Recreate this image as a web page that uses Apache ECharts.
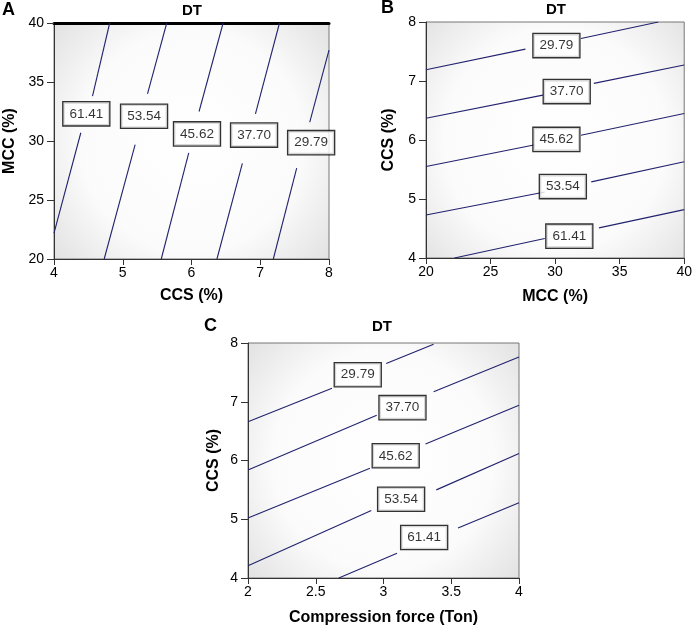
<!DOCTYPE html>
<html>
<head>
<meta charset="utf-8">
<script src="https://cdn.jsdelivr.net/npm/echarts@6/dist/echarts.min.js"></script>
<style>html,body{margin:0;padding:0;background:#fff;}#c{width:695px;height:627px;}</style>
</head>
<body>
<div id="c"></div>
<script>
// Contour levels (DT)
const levels = ['61.41', '53.54', '45.62', '37.70', '29.79'];

// Panel A: CCS (%) on x, MCC (%) on y
const aLow = [[[4, 22.2], [4.39, 30.7]], [[4.73, 20], [5.18, 29.7]], [[5.56, 20], [5.96, 29.0]], [[6.37, 20], [6.74, 28.1]], [[7.19, 20], [7.53, 27.7]]];
const aHigh = [[[4.56, 33.8], [4.81, 40]], [[5.36, 34.0], [5.64, 40]], [[6.11, 32.5], [6.46, 40]], [[6.93, 32.3], [7.28, 40]], [[7.72, 31.6], [8.0, 37.7]]];
const aLabels = [[4.47, 32.3], [5.31, 32.1], [6.08, 30.6], [6.91, 30.5], [7.74, 29.86]];

// Panel B: MCC (%) on x, CCS (%) on y
const bLow = [[[22.2, 4.0], [29.2, 4.33]], [[20, 4.73], [29.2, 5.12]], [[20, 5.55], [28.45, 5.92]], [[20, 6.37], [29.05, 6.76]], [[20, 7.19], [27.7, 7.54]]];
const bHigh = [[[33.4, 4.51], [40, 4.82]], [[32.8, 5.29], [40, 5.63]], [[32.0, 6.08], [40, 6.45]], [[33.0, 6.96], [40, 7.27]], [[32.0, 7.72], [38.0, 8.0]]];
const bLabels = [[31.1, 4.37], [30.6, 5.21], [30.1, 6.01], [30.9, 6.82], [30.1, 7.60]];

// Panel C: Compression force (Ton) on x, CCS (%) on y
const cLow = [[[2.67, 4.0], [3.10, 4.42]], [[2, 4.21], [2.91, 5.15]], [[2, 5.02], [2.90, 5.87]], [[2, 5.84], [2.95, 6.77]], [[2, 6.66], [2.62, 7.23]]];
const cHigh = [[[3.55, 4.85], [4, 5.28]], [[3.39, 5.50], [4, 6.12]], [[3.31, 6.28], [4, 6.94]], [[3.37, 7.17], [4, 7.76]], [[3.02, 7.65], [3.37, 7.98]]];
const cLabels = [[3.30, 4.69], [3.13, 5.34], [3.09, 6.08], [3.14, 6.90], [2.81, 7.46]];

// Axis ranges / names
const axisNames = [['CCS (%)', 'MCC (%)'], ['MCC (%)', 'CCS (%)'], ['Compression force (Ton)', 'CCS (%)']];
const xRanges = [[4, 8, 1], [20, 40, 5], [2, 4, 0.5]];
const yRanges = [[20, 40, 5], [4, 8, 1], [4, 8, 1]];

const FONT = 'Liberation Sans, Arial, sans-serif';
const LINE_COLOR = '#22226e';

const bg = {
  type: 'radial', x: 0.5, y: 0.5, r: 0.78,
  colorStops: [{offset: 0, color: '#ffffff'}, {offset: 0.6, color: '#fbfbfb'}, {offset: 1, color: '#e0e0e0'}]
};

const grids = [
  {left: 54, top: 23, width: 275, height: 236},
  {left: 426, top: 22, width: 262, height: 236},
  {left: 248, top: 343, width: 271, height: 235}
].map(g => Object.assign(g, {show: true, backgroundColor: bg, borderColor: '#777', borderWidth: 1}));

const xNameGaps = [29, 31, 32];
const yNameGaps = [36, 29, 26];

const xAxes = [];
const yAxes = [];
for (let i = 0; i < 3; i++) {
  xAxes.push({
    gridIndex: i, type: 'value', min: xRanges[i][0], max: xRanges[i][1], interval: xRanges[i][2],
    name: axisNames[i][0], nameLocation: 'middle', nameGap: xNameGaps[i],
    nameTextStyle: {fontFamily: FONT, fontWeight: 'bold', fontSize: 16, color: '#000'},
    axisLine: {show: true, lineStyle: {color: '#333', width: 1}},
    axisTick: {show: true, length: 6, lineStyle: {color: '#333'}},
    axisLabel: {fontFamily: FONT, fontSize: 14, color: '#000', margin: 7},
    splitLine: {show: false}
  });
  yAxes.push({
    gridIndex: i, type: 'value', min: yRanges[i][0], max: yRanges[i][1], interval: yRanges[i][2],
    name: axisNames[i][1], nameLocation: 'middle', nameGap: yNameGaps[i], nameRotate: 90,
    nameTextStyle: {fontFamily: FONT, fontWeight: 'bold', fontSize: 16, color: '#000'},
    axisLine: {show: true, lineStyle: {color: '#333', width: 1}},
    axisTick: {show: true, length: 7, lineStyle: {color: '#333'}},
    axisLabel: {fontFamily: FONT, fontSize: 14, color: '#000', margin: 10},
    splitLine: {show: false}
  });
}
// thick top frame line of panel A
xAxes.push({
  gridIndex: 0, type: 'value', position: 'top', min: 4, max: 8,
  axisLine: {show: true, lineStyle: {color: '#000', width: 3}},
  axisTick: {show: false}, axisLabel: {show: false}, splitLine: {show: false}
});

const lows = [aLow, bLow, cLow];
const highs = [aHigh, bHigh, cHigh];
const labs = [aLabels, bLabels, cLabels];

const series = [];
for (let i = 0; i < 3; i++) {
  [lows[i], highs[i]].forEach(set => {
    set.forEach(seg => {
      series.push({
        type: 'line', xAxisIndex: i, yAxisIndex: i, data: seg, showSymbol: false, silent: true,
        lineStyle: {color: LINE_COLOR, width: 1.1}, animation: false, z: 3
      });
    });
  });
  series.push({
    type: 'scatter', xAxisIndex: i, yAxisIndex: i, symbolSize: 1, silent: true, animation: false, z: 5,
    itemStyle: {color: 'rgba(0,0,0,0)'},
    data: labs[i].map((p, j) => ({value: p, name: levels[j]})),
    label: {
      show: true, position: 'inside', formatter: p => p.name,
      fontFamily: FONT, fontSize: 13.5, color: '#000', lineHeight: 14,
      backgroundColor: '#fff', borderColor: '#000', borderWidth: 1.3, padding: [5, 6, 4, 6]
    }
  });
}

const txt = (x, y, s, size, align) => ({
  type: 'text', x: x, y: y, silent: true,
  style: {text: s, fontFamily: FONT, fontWeight: 'bold', fontSize: size, fill: '#000', textAlign: align, textVerticalAlign: 'middle'}
});

const chart = echarts.init(document.getElementById('c'), null, {renderer: 'canvas'});
chart.setOption({
  animation: false,
  backgroundColor: '#fff',
  grid: grids,
  xAxis: xAxes,
  yAxis: yAxes,
  series: series,
  graphic: [
    txt(192, 11, 'DT', 15, 'center'),
    txt(556, 10, 'DT', 15, 'center'),
    txt(382, 327, 'DT', 15, 'center'),
    txt(2, 10, 'A', 18, 'left'),
    txt(381, 8, 'B', 18, 'left'),
    txt(204, 326, 'C', 18, 'left')
  ]
});
</script>
</body>
</html>
